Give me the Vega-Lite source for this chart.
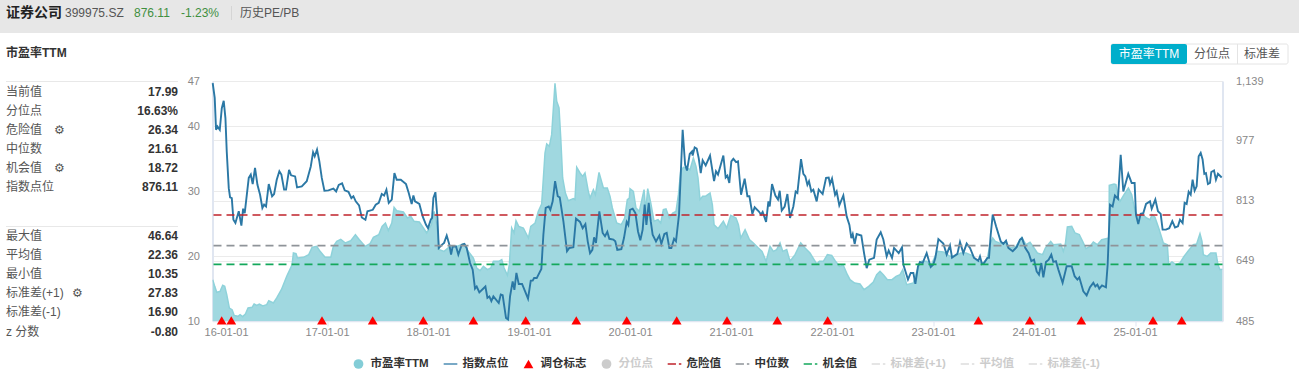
{"$schema":"https://vega.github.io/schema/vega-lite/v6.json","width":1010,"height":240,"autosize":"none","padding":{"left":212.5,"top":81,"right":76.5,"bottom":55},"background":"#ffffff","config":{"view":{"stroke":null},"font":"Liberation Sans, Noto Sans CJK SC, sans-serif"},
"datasets":{
"pe":[{"year":2015.868,"pe":16.37},{"year":2015.888,"pe":15.34},{"year":2015.908,"pe":14.42},{"year":2015.941,"pe":14.57},{"year":2015.967,"pe":15.5},{"year":2015.987,"pe":15.34},{"year":2016.007,"pe":14.06},{"year":2016.033,"pe":12.0},{"year":2016.06,"pe":11.75},{"year":2016.08,"pe":10.87},{"year":2016.119,"pe":10.72},{"year":2016.139,"pe":10.98},{"year":2016.165,"pe":10.67},{"year":2016.192,"pe":11.08},{"year":2016.218,"pe":12.0},{"year":2016.258,"pe":12.11},{"year":2016.278,"pe":12.62},{"year":2016.304,"pe":12.42},{"year":2016.33,"pe":12.62},{"year":2016.363,"pe":12.31},{"year":2016.403,"pe":12.52},{"year":2016.423,"pe":13.13},{"year":2016.469,"pe":12.78},{"year":2016.502,"pe":13.55},{"year":2016.548,"pe":14.83},{"year":2016.601,"pe":16.89},{"year":2016.654,"pe":18.68},{"year":2016.667,"pe":20.48},{"year":2016.693,"pe":20.38},{"year":2016.707,"pe":19.71},{"year":2016.766,"pe":19.82},{"year":2016.819,"pe":20.23},{"year":2016.852,"pe":21.36},{"year":2016.898,"pe":21.51},{"year":2016.931,"pe":20.74},{"year":2016.981,"pe":19.82},{"year":2017.037,"pe":19.82},{"year":2017.063,"pe":21.51},{"year":2017.096,"pe":22.28},{"year":2017.136,"pe":22.59},{"year":2017.182,"pe":22.03},{"year":2017.235,"pe":22.38},{"year":2017.281,"pe":23.31},{"year":2017.32,"pe":22.54},{"year":2017.376,"pe":21.51},{"year":2017.426,"pe":21.92},{"year":2017.459,"pe":22.9},{"year":2017.512,"pe":23.31},{"year":2017.545,"pe":24.59},{"year":2017.578,"pe":25.11},{"year":2017.607,"pe":23.93},{"year":2017.641,"pe":25.11},{"year":2017.664,"pe":27.52},{"year":2017.69,"pe":27.01},{"year":2017.756,"pe":26.8},{"year":2017.796,"pe":25.88},{"year":2017.829,"pe":26.14},{"year":2017.862,"pe":25.37},{"year":2017.914,"pe":25.26},{"year":2017.954,"pe":24.34},{"year":2017.987,"pe":23.57},{"year":2018.033,"pe":24.85},{"year":2018.06,"pe":26.91},{"year":2018.086,"pe":24.85},{"year":2018.112,"pe":21.0},{"year":2018.159,"pe":20.74},{"year":2018.218,"pe":21.51},{"year":2018.284,"pe":21.51},{"year":2018.35,"pe":21.87},{"year":2018.399,"pe":20.74},{"year":2018.449,"pe":19.71},{"year":2018.482,"pe":18.17},{"year":2018.515,"pe":17.76},{"year":2018.548,"pe":18.43},{"year":2018.588,"pe":17.91},{"year":2018.621,"pe":18.17},{"year":2018.647,"pe":19.2},{"year":2018.7,"pe":19.2},{"year":2018.73,"pe":19.46},{"year":2018.753,"pe":18.17},{"year":2018.786,"pe":17.04},{"year":2018.805,"pe":18.68},{"year":2018.828,"pe":24.34},{"year":2018.852,"pe":23.57},{"year":2018.871,"pe":25.47},{"year":2018.898,"pe":24.59},{"year":2018.944,"pe":24.34},{"year":2018.994,"pe":22.8},{"year":2019.017,"pe":24.59},{"year":2019.06,"pe":25.11},{"year":2019.092,"pe":26.91},{"year":2019.125,"pe":28.04},{"year":2019.142,"pe":32.05},{"year":2019.158,"pe":35.9},{"year":2019.175,"pe":37.29},{"year":2019.201,"pe":36.93},{"year":2019.224,"pe":38.73},{"year":2019.257,"pe":46.64},{"year":2019.274,"pe":43.87},{"year":2019.297,"pe":42.84},{"year":2019.314,"pe":38.21},{"year":2019.333,"pe":32.05},{"year":2019.36,"pe":29.73},{"year":2019.389,"pe":28.55},{"year":2019.439,"pe":28.86},{"year":2019.455,"pe":28.71},{"year":2019.472,"pe":33.69},{"year":2019.505,"pe":32.82},{"year":2019.531,"pe":32.3},{"year":2019.554,"pe":32.82},{"year":2019.587,"pe":29.99},{"year":2019.604,"pe":28.96},{"year":2019.637,"pe":30.25},{"year":2019.657,"pe":29.48},{"year":2019.693,"pe":32.92},{"year":2019.736,"pe":30.5},{"year":2019.775,"pe":30.5},{"year":2019.802,"pe":29.22},{"year":2019.825,"pe":27.42},{"year":2019.868,"pe":25.11},{"year":2019.914,"pe":24.85},{"year":2019.947,"pe":25.88},{"year":2019.973,"pe":28.71},{"year":2019.993,"pe":28.96},{"year":2020.0,"pe":30.4},{"year":2020.033,"pe":29.99},{"year":2020.059,"pe":27.42},{"year":2020.092,"pe":26.91},{"year":2020.139,"pe":30.25},{"year":2020.155,"pe":26.91},{"year":2020.175,"pe":30.4},{"year":2020.205,"pe":28.19},{"year":2020.238,"pe":25.37},{"year":2020.277,"pe":25.62},{"year":2020.304,"pe":25.11},{"year":2020.33,"pe":27.16},{"year":2020.356,"pe":27.27},{"year":2020.389,"pe":25.88},{"year":2020.422,"pe":26.65},{"year":2020.455,"pe":26.91},{"year":2020.479,"pe":29.48},{"year":2020.502,"pe":33.07},{"year":2020.528,"pe":33.69},{"year":2020.561,"pe":33.59},{"year":2020.594,"pe":33.33},{"year":2020.627,"pe":35.13},{"year":2020.653,"pe":33.84},{"year":2020.673,"pe":32.05},{"year":2020.693,"pe":28.71},{"year":2020.719,"pe":29.22},{"year":2020.746,"pe":29.22},{"year":2020.792,"pe":29.73},{"year":2020.815,"pe":27.94},{"year":2020.832,"pe":24.85},{"year":2020.871,"pe":24.24},{"year":2020.924,"pe":25.37},{"year":2020.957,"pe":24.34},{"year":2020.997,"pe":26.29},{"year":2021.049,"pe":25.88},{"year":2021.073,"pe":24.85},{"year":2021.096,"pe":22.8},{"year":2021.139,"pe":24.08},{"year":2021.182,"pe":22.54},{"year":2021.221,"pe":22.03},{"year":2021.271,"pe":21.25},{"year":2021.307,"pe":20.74},{"year":2021.347,"pe":19.2},{"year":2021.386,"pe":21.51},{"year":2021.419,"pe":20.74},{"year":2021.452,"pe":21.0},{"year":2021.485,"pe":22.03},{"year":2021.512,"pe":20.74},{"year":2021.551,"pe":21.0},{"year":2021.584,"pe":19.2},{"year":2021.634,"pe":20.23},{"year":2021.69,"pe":22.03},{"year":2021.733,"pe":21.25},{"year":2021.782,"pe":20.48},{"year":2021.822,"pe":19.46},{"year":2021.848,"pe":18.79},{"year":2021.875,"pe":19.2},{"year":2021.914,"pe":19.2},{"year":2021.954,"pe":20.23},{"year":2021.997,"pe":20.12},{"year":2022.03,"pe":19.3},{"year":2022.073,"pe":18.43},{"year":2022.112,"pe":18.58},{"year":2022.152,"pe":17.14},{"year":2022.178,"pe":16.37},{"year":2022.224,"pe":15.86},{"year":2022.277,"pe":15.7},{"year":2022.317,"pe":14.83},{"year":2022.363,"pe":15.34},{"year":2022.409,"pe":16.01},{"year":2022.442,"pe":17.14},{"year":2022.475,"pe":17.66},{"year":2022.508,"pe":17.14},{"year":2022.548,"pe":16.37},{"year":2022.594,"pe":16.37},{"year":2022.634,"pe":16.89},{"year":2022.673,"pe":17.14},{"year":2022.7,"pe":17.91},{"year":2022.739,"pe":15.6},{"year":2022.805,"pe":15.86},{"year":2022.845,"pe":17.91},{"year":2022.888,"pe":19.2},{"year":2022.937,"pe":19.2},{"year":2022.977,"pe":18.43},{"year":2023.02,"pe":19.97},{"year":2023.043,"pe":20.74},{"year":2023.102,"pe":20.64},{"year":2023.168,"pe":19.97},{"year":2023.218,"pe":19.97},{"year":2023.274,"pe":20.48},{"year":2023.327,"pe":20.48},{"year":2023.383,"pe":20.12},{"year":2023.439,"pe":19.2},{"year":2023.498,"pe":18.94},{"year":2023.538,"pe":19.71},{"year":2023.564,"pe":21.77},{"year":2023.591,"pe":22.8},{"year":2023.617,"pe":22.28},{"year":2023.657,"pe":22.03},{"year":2023.723,"pe":21.92},{"year":2023.769,"pe":21.25},{"year":2023.822,"pe":21.51},{"year":2023.878,"pe":22.9},{"year":2023.921,"pe":21.77},{"year":2023.96,"pe":22.13},{"year":2024.0,"pe":21.25},{"year":2024.033,"pe":20.48},{"year":2024.085,"pe":20.23},{"year":2024.112,"pe":21.25},{"year":2024.165,"pe":22.28},{"year":2024.191,"pe":21.77},{"year":2024.264,"pe":21.87},{"year":2024.29,"pe":20.74},{"year":2024.31,"pe":21.87},{"year":2024.33,"pe":24.49},{"year":2024.373,"pe":24.59},{"year":2024.406,"pe":23.57},{"year":2024.448,"pe":23.31},{"year":2024.481,"pe":22.28},{"year":2024.514,"pe":21.15},{"year":2024.554,"pe":21.51},{"year":2024.587,"pe":22.18},{"year":2024.627,"pe":21.77},{"year":2024.67,"pe":22.54},{"year":2024.712,"pe":22.69},{"year":2024.742,"pe":22.8},{"year":2024.745,"pe":30.92},{"year":2024.792,"pe":31.12},{"year":2024.811,"pe":31.02},{"year":2024.831,"pe":29.22},{"year":2024.851,"pe":28.45},{"year":2024.891,"pe":29.48},{"year":2024.934,"pe":30.5},{"year":2024.967,"pe":29.48},{"year":2025.0,"pe":26.91},{"year":2025.033,"pe":26.14},{"year":2025.075,"pe":26.39},{"year":2025.115,"pe":25.88},{"year":2025.148,"pe":25.62},{"year":2025.168,"pe":26.39},{"year":2025.197,"pe":26.0},{"year":2025.24,"pe":24.08},{"year":2025.28,"pe":22.03},{"year":2025.32,"pe":21.77},{"year":2025.333,"pe":18.68},{"year":2025.366,"pe":19.1},{"year":2025.405,"pe":18.68},{"year":2025.445,"pe":18.94},{"year":2025.485,"pe":19.97},{"year":2025.528,"pe":20.84},{"year":2025.577,"pe":21.77},{"year":2025.61,"pe":21.87},{"year":2025.643,"pe":23.46},{"year":2025.663,"pe":22.28},{"year":2025.676,"pe":20.23},{"year":2025.716,"pe":19.97},{"year":2025.749,"pe":20.48},{"year":2025.801,"pe":20.48},{"year":2025.821,"pe":18.68},{"year":2025.841,"pe":17.91},{"year":2025.866,"pe":17.99}],
"idx":[{"year":2015.868,"v":1133},{"year":2015.888,"v":1093},{"year":2015.901,"v":1006},{"year":2015.915,"v":1015},{"year":2015.938,"v":1006},{"year":2015.958,"v":1065},{"year":2015.977,"v":1085},{"year":2015.994,"v":1038},{"year":2016.007,"v":947},{"year":2016.027,"v":847},{"year":2016.04,"v":822},{"year":2016.057,"v":820},{"year":2016.073,"v":761},{"year":2016.093,"v":752},{"year":2016.126,"v":784},{"year":2016.152,"v":745},{"year":2016.169,"v":791},{"year":2016.185,"v":779},{"year":2016.225,"v":875},{"year":2016.245,"v":884},{"year":2016.264,"v":858},{"year":2016.287,"v":902},{"year":2016.311,"v":856},{"year":2016.337,"v":829},{"year":2016.36,"v":793},{"year":2016.377,"v":802},{"year":2016.396,"v":797},{"year":2016.423,"v":858},{"year":2016.456,"v":825},{"year":2016.476,"v":831},{"year":2016.502,"v":870},{"year":2016.528,"v":893},{"year":2016.548,"v":884},{"year":2016.575,"v":843},{"year":2016.594,"v":843},{"year":2016.624,"v":897},{"year":2016.644,"v":882},{"year":2016.684,"v":879},{"year":2016.703,"v":849},{"year":2016.75,"v":852},{"year":2016.799,"v":866},{"year":2016.839,"v":906},{"year":2016.862,"v":945},{"year":2016.878,"v":934},{"year":2016.901,"v":952},{"year":2016.924,"v":920},{"year":2016.948,"v":875},{"year":2016.974,"v":840},{"year":2017.014,"v":841},{"year":2017.063,"v":846},{"year":2017.09,"v":838},{"year":2017.116,"v":856},{"year":2017.149,"v":860},{"year":2017.175,"v":841},{"year":2017.212,"v":837},{"year":2017.241,"v":820},{"year":2017.261,"v":825},{"year":2017.284,"v":811},{"year":2017.317,"v":800},{"year":2017.344,"v":767},{"year":2017.38,"v":761},{"year":2017.4,"v":784},{"year":2017.453,"v":788},{"year":2017.482,"v":802},{"year":2017.512,"v":807},{"year":2017.542,"v":831},{"year":2017.565,"v":827},{"year":2017.588,"v":843},{"year":2017.611,"v":807},{"year":2017.641,"v":816},{"year":2017.667,"v":888},{"year":2017.69,"v":870},{"year":2017.73,"v":870},{"year":2017.782,"v":858},{"year":2017.809,"v":834},{"year":2017.838,"v":804},{"year":2017.855,"v":827},{"year":2017.871,"v":811},{"year":2017.914,"v":804},{"year":2017.947,"v":770},{"year":2017.98,"v":747},{"year":2018.0,"v":738},{"year":2018.027,"v":761},{"year":2018.04,"v":766},{"year":2018.053,"v":820},{"year":2018.073,"v":836},{"year":2018.093,"v":766},{"year":2018.106,"v":684},{"year":2018.139,"v":693},{"year":2018.159,"v":698},{"year":2018.185,"v":718},{"year":2018.211,"v":693},{"year":2018.228,"v":666},{"year":2018.244,"v":688},{"year":2018.277,"v":688},{"year":2018.3,"v":666},{"year":2018.334,"v":693},{"year":2018.36,"v":695},{"year":2018.383,"v":684},{"year":2018.416,"v":643},{"year":2018.442,"v":625},{"year":2018.465,"v":573},{"year":2018.482,"v":579},{"year":2018.508,"v":563},{"year":2018.568,"v":579},{"year":2018.588,"v":548},{"year":2018.607,"v":552},{"year":2018.627,"v":539},{"year":2018.647,"v":552},{"year":2018.7,"v":534},{"year":2018.72,"v":557},{"year":2018.739,"v":555},{"year":2018.772,"v":493},{"year":2018.792,"v":489},{"year":2018.812,"v":552},{"year":2018.838,"v":593},{"year":2018.855,"v":570},{"year":2018.875,"v":616},{"year":2018.898,"v":586},{"year":2018.931,"v":586},{"year":2018.961,"v":566},{"year":2018.99,"v":546},{"year":2019.017,"v":595},{"year":2019.036,"v":595},{"year":2019.05,"v":602},{"year":2019.076,"v":602},{"year":2019.122,"v":627},{"year":2019.142,"v":720},{"year":2019.165,"v":793},{"year":2019.195,"v":797},{"year":2019.211,"v":788},{"year":2019.234,"v":811},{"year":2019.258,"v":866},{"year":2019.284,"v":825},{"year":2019.304,"v":822},{"year":2019.34,"v":757},{"year":2019.376,"v":675},{"year":2019.399,"v":684},{"year":2019.439,"v":686},{"year":2019.465,"v":764},{"year":2019.505,"v":755},{"year":2019.531,"v":738},{"year":2019.558,"v":749},{"year":2019.581,"v":702},{"year":2019.604,"v":670},{"year":2019.627,"v":679},{"year":2019.644,"v":713},{"year":2019.663,"v":698},{"year":2019.696,"v":784},{"year":2019.729,"v":725},{"year":2019.752,"v":716},{"year":2019.775,"v":728},{"year":2019.795,"v":709},{"year":2019.835,"v":707},{"year":2019.854,"v":702},{"year":2019.874,"v":679},{"year":2019.914,"v":681},{"year":2019.94,"v":711},{"year":2019.967,"v":755},{"year":2019.983,"v":747},{"year":2020.0,"v":788},{"year":2020.026,"v":791},{"year":2020.053,"v":779},{"year":2020.079,"v":729},{"year":2020.102,"v":705},{"year":2020.125,"v":734},{"year":2020.145,"v":802},{"year":2020.162,"v":747},{"year":2020.185,"v":807},{"year":2020.205,"v":757},{"year":2020.224,"v":720},{"year":2020.257,"v":702},{"year":2020.29,"v":718},{"year":2020.31,"v":695},{"year":2020.34,"v":722},{"year":2020.363,"v":725},{"year":2020.389,"v":684},{"year":2020.409,"v":684},{"year":2020.436,"v":709},{"year":2020.455,"v":702},{"year":2020.485,"v":775},{"year":2020.521,"v":1006},{"year":2020.545,"v":911},{"year":2020.564,"v":895},{"year":2020.591,"v":940},{"year":2020.614,"v":947},{"year":2020.62,"v":936},{"year":2020.64,"v":958},{"year":2020.66,"v":955},{"year":2020.68,"v":929},{"year":2020.7,"v":888},{"year":2020.719,"v":923},{"year":2020.749,"v":909},{"year":2020.792,"v":936},{"year":2020.832,"v":866},{"year":2020.851,"v":893},{"year":2020.871,"v":884},{"year":2020.924,"v":936},{"year":2020.947,"v":876},{"year":2020.964,"v":881},{"year":2020.983,"v":861},{"year":2021.003,"v":920},{"year":2021.023,"v":927},{"year":2021.05,"v":918},{"year":2021.069,"v":920},{"year":2021.099,"v":829},{"year":2021.135,"v":873},{"year":2021.162,"v":825},{"year":2021.182,"v":825},{"year":2021.211,"v":777},{"year":2021.234,"v":795},{"year":2021.274,"v":784},{"year":2021.297,"v":775},{"year":2021.313,"v":782},{"year":2021.347,"v":755},{"year":2021.37,"v":811},{"year":2021.383,"v":797},{"year":2021.406,"v":858},{"year":2021.439,"v":827},{"year":2021.465,"v":816},{"year":2021.482,"v":840},{"year":2021.502,"v":786},{"year":2021.531,"v":797},{"year":2021.558,"v":831},{"year":2021.584,"v":766},{"year":2021.617,"v":797},{"year":2021.64,"v":838},{"year":2021.657,"v":834},{"year":2021.693,"v":926},{"year":2021.716,"v":886},{"year":2021.736,"v":879},{"year":2021.756,"v":856},{"year":2021.772,"v":866},{"year":2021.795,"v":838},{"year":2021.815,"v":843},{"year":2021.848,"v":811},{"year":2021.868,"v":843},{"year":2021.907,"v":831},{"year":2021.941,"v":875},{"year":2021.967,"v":876},{"year":2021.98,"v":858},{"year":2022.0,"v":873},{"year":2022.03,"v":829},{"year":2022.046,"v":838},{"year":2022.072,"v":800},{"year":2022.112,"v":827},{"year":2022.145,"v":770},{"year":2022.172,"v":747},{"year":2022.191,"v":711},{"year":2022.205,"v":722},{"year":2022.224,"v":695},{"year":2022.244,"v":722},{"year":2022.29,"v":718},{"year":2022.317,"v":670},{"year":2022.343,"v":629},{"year":2022.369,"v":652},{"year":2022.416,"v":657},{"year":2022.442,"v":707},{"year":2022.482,"v":727},{"year":2022.508,"v":707},{"year":2022.541,"v":661},{"year":2022.561,"v":677},{"year":2022.594,"v":657},{"year":2022.614,"v":684},{"year":2022.66,"v":670},{"year":2022.693,"v":686},{"year":2022.706,"v":639},{"year":2022.752,"v":598},{"year":2022.779,"v":616},{"year":2022.805,"v":616},{"year":2022.825,"v":586},{"year":2022.851,"v":634},{"year":2022.871,"v":646},{"year":2022.897,"v":643},{"year":2022.937,"v":670},{"year":2022.977,"v":632},{"year":2023.003,"v":639},{"year":2023.023,"v":657},{"year":2023.053,"v":708},{"year":2023.102,"v":696},{"year":2023.135,"v":666},{"year":2023.168,"v":691},{"year":2023.188,"v":658},{"year":2023.241,"v":668},{"year":2023.267,"v":700},{"year":2023.3,"v":670},{"year":2023.333,"v":696},{"year":2023.366,"v":684},{"year":2023.406,"v":657},{"year":2023.449,"v":649},{"year":2023.465,"v":661},{"year":2023.485,"v":640},{"year":2023.505,"v":643},{"year":2023.538,"v":657},{"year":2023.554,"v":657},{"year":2023.571,"v":720},{"year":2023.591,"v":775},{"year":2023.624,"v":743},{"year":2023.67,"v":702},{"year":2023.696,"v":695},{"year":2023.723,"v":704},{"year":2023.746,"v":684},{"year":2023.789,"v":675},{"year":2023.828,"v":686},{"year":2023.861,"v":707},{"year":2023.881,"v":711},{"year":2023.914,"v":684},{"year":2023.947,"v":670},{"year":2023.973,"v":648},{"year":2024.0,"v":652},{"year":2024.026,"v":620},{"year":2024.049,"v":611},{"year":2024.072,"v":643},{"year":2024.092,"v":604},{"year":2024.118,"v":646},{"year":2024.145,"v":652},{"year":2024.171,"v":666},{"year":2024.191,"v":646},{"year":2024.217,"v":648},{"year":2024.241,"v":625},{"year":2024.283,"v":589},{"year":2024.323,"v":634},{"year":2024.373,"v":634},{"year":2024.402,"v":607},{"year":2024.429,"v":598},{"year":2024.448,"v":604},{"year":2024.488,"v":566},{"year":2024.521,"v":555},{"year":2024.554,"v":577},{"year":2024.587,"v":589},{"year":2024.607,"v":579},{"year":2024.627,"v":584},{"year":2024.646,"v":573},{"year":2024.673,"v":582},{"year":2024.712,"v":577},{"year":2024.729,"v":639},{"year":2024.752,"v":802},{"year":2024.778,"v":797},{"year":2024.801,"v":827},{"year":2024.831,"v":818},{"year":2024.858,"v":938},{"year":2024.884,"v":838},{"year":2024.933,"v":886},{"year":2024.967,"v":861},{"year":2024.996,"v":861},{"year":2025.009,"v":775},{"year":2025.032,"v":749},{"year":2025.056,"v":777},{"year":2025.082,"v":779},{"year":2025.109,"v":804},{"year":2025.148,"v":811},{"year":2025.165,"v":791},{"year":2025.201,"v":816},{"year":2025.227,"v":784},{"year":2025.254,"v":777},{"year":2025.273,"v":734},{"year":2025.306,"v":734},{"year":2025.339,"v":738},{"year":2025.369,"v":757},{"year":2025.396,"v":740},{"year":2025.425,"v":743},{"year":2025.445,"v":761},{"year":2025.471,"v":752},{"year":2025.491,"v":807},{"year":2025.511,"v":804},{"year":2025.531,"v":837},{"year":2025.551,"v":829},{"year":2025.57,"v":870},{"year":2025.59,"v":840},{"year":2025.61,"v":852},{"year":2025.63,"v":934},{"year":2025.65,"v":943},{"year":2025.669,"v":925},{"year":2025.686,"v":886},{"year":2025.702,"v":888},{"year":2025.722,"v":858},{"year":2025.742,"v":861},{"year":2025.755,"v":891},{"year":2025.782,"v":895},{"year":2025.801,"v":870},{"year":2025.821,"v":886},{"year":2025.858,"v":876.11}],
"marks":[{"year":2015.957,"level":10.1},{"year":2016.052,"level":10.1},{"year":2016.95,"level":10.1},{"year":2017.452,"level":10.1},{"year":2017.953,"level":10.1},{"year":2018.449,"level":10.1},{"year":2018.967,"level":10.1},{"year":2019.468,"level":10.1},{"year":2019.967,"level":10.1},{"year":2020.462,"level":10.1},{"year":2020.96,"level":10.1},{"year":2021.458,"level":10.1},{"year":2021.957,"level":10.1},{"year":2023.449,"level":10.1},{"year":2023.958,"level":10.1},{"year":2024.468,"level":10.1},{"year":2025.178,"level":10.1},{"year":2025.462,"level":10.1}]
},
"resolve":{"scale":{"y":"independent"},"axis":{"y":"independent"}},
"layer":[
{"data":{"values":[{"part":"header"}]},"mark":{"type":"rect","x":-212.5,"x2":1086.5,"y":-81,"y2":-48,"fill":"#e7e7e7"},"encoding":{}},
{"data":{"name":"pe"},"mark":{"type":"area","color":"#a0d8e0","opacity":1,"clip":true,"line":{"color":"#8ed2da","strokeWidth":1.5},"interpolate":"linear"},"encoding":{"x":{"field":"year","type":"quantitative","scale":{"domain":[2015.866,2025.866],"nice":false,"zero":false},"axis":{"values":[2016,2017,2018,2019,2020,2021,2022,2023,2024,2025],"format":"d","labelExpr":"substring(datum.label,2)+'-01-01'","grid":false,"title":null,"domainColor":"#e0e6f1","domainWidth":1.5,"tickColor":"#dfe5f2","tickSize":5,"labelColor":"#888888","labelFont":"Liberation Sans","labelFontSize":11,"labelPadding":0}},"y":{"field":"pe","type":"quantitative","scale":{"domain":[10,47],"nice":false,"zero":false},"axis":{"orient":"left","values":[10,20,30,40,47],"format":"d","title":null,"grid":true,"gridColor":"#ebebeb","gridWidth":1.2,"ticks":false,"domainColor":"#e0e6f1","domainWidth":2,"labelColor":"#888888","labelFont":"Liberation Sans","labelFontSize":11,"labelPadding":13}}}},
{"data":{"name":"idx"},"mark":{"type":"line","color":"#2b78a5","strokeWidth":1.9},"encoding":{"x":{"field":"year","type":"quantitative"},"y":{"field":"v","type":"quantitative","scale":{"domain":[485,1139],"nice":false,"zero":false},"axis":{"orient":"right","values":[485,649,813,977,1139],"format":",d","title":null,"grid":true,"gridColor":"#ebebeb","gridWidth":1.2,"ticks":false,"domainColor":"#e0e6f1","domainWidth":2,"labelColor":"#888888","labelFont":"Liberation Sans","labelFontSize":11,"labelPadding":13}}}},
{"data":{"values":[{"name":"危险值","value":26.34,"c":"danger"}]},"mark":{"type":"rule","color":"#c0232b","strokeWidth":1.7,"strokeDash":[8,5]},"encoding":{"y":{"field":"value","type":"quantitative","scale":{"domain":[10,47],"nice":false,"zero":false},"axis":null}}},
{"data":{"values":[{"name":"中位数","value":21.61}]},"mark":{"type":"rule","color":"#8f9499","strokeWidth":1.7,"strokeDash":[8,5]},"encoding":{"y":{"field":"value","type":"quantitative","scale":{"domain":[10,47],"nice":false,"zero":false},"axis":null}}},
{"data":{"values":[{"name":"机会值","value":18.72}]},"mark":{"type":"rule","color":"#14a85c","strokeWidth":1.7,"strokeDash":[8,5]},"encoding":{"y":{"field":"value","type":"quantitative","scale":{"domain":[10,47],"nice":false,"zero":false},"axis":null}}},
{"data":{"name":"marks"},"mark":{"type":"point","shape":"triangle-up","filled":true,"color":"#ff0000","opacity":1,"size":95,"clip":false},"encoding":{"x":{"field":"year","type":"quantitative"},"y":{"field":"level","type":"quantitative","scale":{"domain":[10,47],"nice":false,"zero":false},"axis":null}}},
{"data":{"values":[{"k":"当前值","v":"17.99"},{"k":"分位点","v":"16.63%"},{"k":"危险值\u2003⚙","v":"26.34"},{"k":"中位数","v":"21.61"},{"k":"机会值\u2003⚙","v":"18.72"},{"k":"指数点位","v":"876.11"}]},"layer":[
{"mark":{"type":"text","align":"left","x":-206.5,"fontSize":12,"color":"#555555","font":"Liberation Sans, DejaVu Sans, Noto Sans CJK SC"},"encoding":{"text":{"field":"k"},"y":{"field":"k","type":"nominal","sort":null,"scale":{"type":"point","padding":0,"range":[10.5,105.5]},"axis":null}}},
{"mark":{"type":"text","align":"right","x":-34.5,"fontSize":12,"fontWeight":"bold","color":"#333333"},"encoding":{"text":{"field":"v"},"y":{"field":"k","type":"nominal","sort":null,"scale":{"type":"point","padding":0,"range":[10.5,105.5]},"axis":null}}}]},
{"data":{"values":[{"k":"最大值","v":"46.64"},{"k":"平均值","v":"22.36"},{"k":"最小值","v":"10.35"},{"k":"标准差(+1)\u2002\u2009⚙","v":"27.83"},{"k":"标准差(-1)","v":"16.90"},{"k":"z 分数","v":"-0.80"}]},"layer":[
{"mark":{"type":"text","align":"left","x":-206.5,"fontSize":12,"color":"#555555","font":"Liberation Sans, DejaVu Sans, Noto Sans CJK SC"},"encoding":{"text":{"field":"k"},"y":{"field":"k","type":"nominal","sort":null,"scale":{"type":"point","padding":0,"range":[155,250.5]},"axis":null}}},
{"mark":{"type":"text","align":"right","x":-34.5,"fontSize":12,"fontWeight":"bold","color":"#333333"},"encoding":{"text":{"field":"v"},"y":{"field":"k","type":"nominal","sort":null,"scale":{"type":"point","padding":0,"range":[155,250.5]},"axis":null}}}]},
{"data":{"values":[{"part":"rule"}]},"mark":{"type":"rect","x":-206.5,"x2":-34.5,"y":0,"y2":1,"fill":"#e8e8e8"},"encoding":{}},
{"data":{"values":[{"part":"rule"}]},"mark":{"type":"rect","x":-206.5,"x2":-34.5,"y":145,"y2":146,"fill":"#e8e8e8"},"encoding":{}},
{"data":{"values":[{"t":"证券公司"}]},"mark":{"type":"text","align":"left","x":-206.5,"y":-68,"fontSize":14,"fontWeight":"bold","color":"#222222"},"encoding":{"text":{"field":"t"}}},
{"data":{"values":[{"t":"399975.SZ"}]},"mark":{"type":"text","align":"left","x":-147.5,"y":-68,"fontSize":12,"color":"#555555"},"encoding":{"text":{"field":"t"}}},
{"data":{"values":[{"t":"876.11"}]},"mark":{"type":"text","align":"left","x":-78.5,"y":-68,"fontSize":12,"color":"#3f8f3f"},"encoding":{"text":{"field":"t"}}},
{"data":{"values":[{"t":"-1.23%"}]},"mark":{"type":"text","align":"left","x":-31.5,"y":-68,"fontSize":12,"color":"#3f8f3f"},"encoding":{"text":{"field":"t"}}},
{"data":{"values":[{"t":"历史PE/PB"}]},"mark":{"type":"text","align":"left","x":27.5,"y":-68,"fontSize":12,"color":"#555555"},"encoding":{"text":{"field":"t"}}},
{"data":{"values":[{"part":"sep"}]},"mark":{"type":"rect","x":18.5,"x2":19.5,"y":-75,"y2":-61,"fill":"#d5d5d5"},"encoding":{}},
{"data":{"values":[{"t":"市盈率TTM"}]},"mark":{"type":"text","align":"left","x":-206.5,"y":-28,"fontSize":12,"fontWeight":"bold","color":"#333333"},"encoding":{"text":{"field":"t"}}},
{"data":{"values":[{"part":"btn"}]},"mark":{"type":"rect","x":898.5,"x2":1075.5,"y":-37,"y2":-17,"fill":"#ffffff","stroke":"#e4e4e4","strokeWidth":1,"cornerRadius":2},"encoding":{}},
{"data":{"values":[{"part":"btn"}]},"mark":{"type":"rect","x":898.5,"x2":974.5,"y":-37,"y2":-17,"fill":"#00aecb","cornerRadius":2},"encoding":{}},
{"data":{"values":[{"part":"btn"}]},"mark":{"type":"rect","x":1024.5,"x2":1025.5,"y":-37,"y2":-17,"fill":"#e4e4e4"},"encoding":{}},
{"data":{"values":[{"t":"市盈率TTM"}]},"mark":{"type":"text","align":"center","x":936.5,"y":-27,"fontSize":12,"color":"#ffffff"},"encoding":{"text":{"field":"t"}}},
{"data":{"values":[{"t":"分位点"}]},"mark":{"type":"text","align":"center","x":999.5,"y":-27,"fontSize":12,"color":"#555555"},"encoding":{"text":{"field":"t"}}},
{"data":{"values":[{"t":"标准差"}]},"mark":{"type":"text","align":"center","x":1049.5,"y":-27,"fontSize":12,"color":"#555555"},"encoding":{"text":{"field":"t"}}},
{"data":{"values":[]},"mark":{"type":"point","filled":true,"opacity":1},"encoding":{"color":{"field":"name","type":"nominal","scale":{"domain":["市盈率TTM","指数点位","调仓标志","分位点","危险值","中位数","机会值","标准差(+1)","平均值","标准差(-1)"],"range":["#83cdd7","#2b78a5","#ff0000","#cccccc","#c0232b","#8f9499","#14a85c","#dddddd","#dddddd","#dddddd"]},"legend":{"orient":"none","legendX":140,"legendY":277,"direction":"horizontal","columns":10,"title":null,"gridAlign":"none","columnPadding":14,"labelFontSize":11.5,"labelFontWeight":"bold","labelColor":{"expr":"indexof(['分位点','标准差(+1)','平均值','标准差(-1)'],datum.label)>=0?'#cccccc':'#333333'"},"symbolSize":95,"labelOffset":6,"symbolOpacity":1}},"shape":{"field":"name","type":"nominal","scale":{"domain":["市盈率TTM","指数点位","调仓标志","分位点","危险值","中位数","机会值","标准差(+1)","平均值","标准差(-1)"],"range":["circle","M-1.4,-0.13H1.4V0.13H-1.4Z","triangle-up","circle","M-1.4,-0.13H0.3V0.13H-1.4Z M0.9,-0.13H1.4V0.13H0.9Z","M-1.4,-0.13H0.3V0.13H-1.4Z M0.9,-0.13H1.4V0.13H0.9Z","M-1.4,-0.13H0.3V0.13H-1.4Z M0.9,-0.13H1.4V0.13H0.9Z","M-1.4,-0.13H0.3V0.13H-1.4Z M0.9,-0.13H1.4V0.13H0.9Z","M-1.4,-0.13H0.3V0.13H-1.4Z M0.9,-0.13H1.4V0.13H0.9Z","M-1.4,-0.13H0.3V0.13H-1.4Z M0.9,-0.13H1.4V0.13H0.9Z"]},"legend":null}}}
]}
